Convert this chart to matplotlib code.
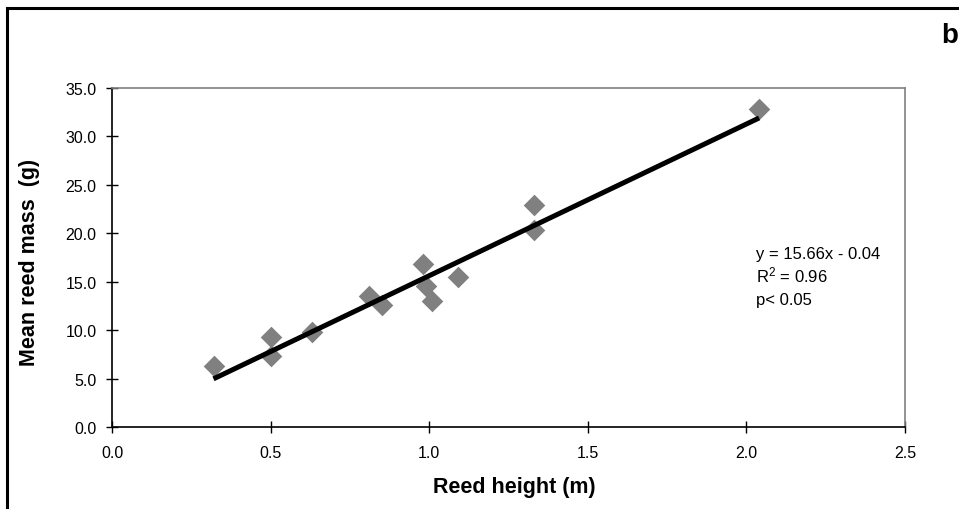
import matplotlib
matplotlib.use("Agg")
import matplotlib.pyplot as plt
from matplotlib.patches import Rectangle
import numpy as np

plt.rcParams['font.family'] = ['Liberation Sans', 'DejaVu Sans']
plt.rcParams['mathtext.default'] = 'regular'

# Data
reed_height = [0.32, 0.50, 0.50, 0.63, 0.81, 0.85, 0.98, 0.99, 1.01, 1.09, 1.33, 1.33, 2.04]
reed_mass = [6.3, 9.3, 7.3, 9.8, 13.5, 12.6, 16.8, 14.6, 13.0, 15.5, 20.3, 22.9, 32.8]
fit_slope = 15.66
fit_intercept = -0.04
x_ticks = [0.0, 0.5, 1.0, 1.5, 2.0, 2.5]
y_ticks = [0.0, 5.0, 10.0, 15.0, 20.0, 25.0, 30.0, 35.0]

W, H = 959, 510
fig = plt.figure(figsize=(W / 100, H / 100), dpi=100)
ax = fig.add_axes([112/W, (H - 428)/H, 793/W, 339/H])

ax.scatter(reed_height, reed_mass, marker='D', s=11**2, color='#808080', zorder=2, linewidths=0)
xf = np.array([min(reed_height), max(reed_height)])
ax.plot(xf, fit_slope * xf + fit_intercept, color='black', lw=3.6, zorder=3, solid_capstyle='butt')

ax.set_xlim(0, 2.5)
ax.set_ylim(0, 35)
ax.set_xticks(x_ticks)
ax.set_xticklabels([f"{v:.1f}" for v in x_ticks])
ax.set_yticks(y_ticks)
ax.set_yticklabels([f"{v:.1f}" for v in y_ticks])
ax.tick_params(axis='both', direction='inout', length=8, width=1, labelsize=11.5, colors='black')
ax.tick_params(axis='x', pad=9)
ax.tick_params(axis='y', pad=7)

ax.spines['left'].set_color('black')
ax.spines['bottom'].set_color('black')
ax.spines['top'].set_color('#808080')
ax.spines['right'].set_color('#808080')
for s in ax.spines.values():
    s.set_linewidth(1.2)

fig.text(514/W, 1 - 493/H, 'Reed height (m)', fontsize=15.5, fontweight='bold',
         ha='center', va='baseline')
fig.text(30/W, 1 - 262/H, 'Mean reed mass  (g)', fontsize=15.5, fontweight='bold',
         ha='center', va='center', rotation=90)

eq_text = f"y = {fit_slope:.2f}x - {abs(fit_intercept):.2f}"
fig.text(756/W, 1 - 259/H, eq_text, fontsize=12, va='baseline', ha='left')
fig.text(756/W, 1 - 282/H, 'R$^2$ = 0.96', fontsize=12, va='baseline', ha='left')
fig.text(756/W, 1 - 305/H, 'p< 0.05', fontsize=12, va='baseline', ha='left')

fig.text(950/W, 1 - 43/H, 'b', fontsize=20, fontweight='bold', va='baseline', ha='center')

fig.patches.append(Rectangle((7/W, -0.1), 1.2, (H - 9)/H + 0.1, transform=fig.transFigure,
                             fill=False, edgecolor='black', linewidth=2.2))

fig.savefig('out.png', dpi=100)
